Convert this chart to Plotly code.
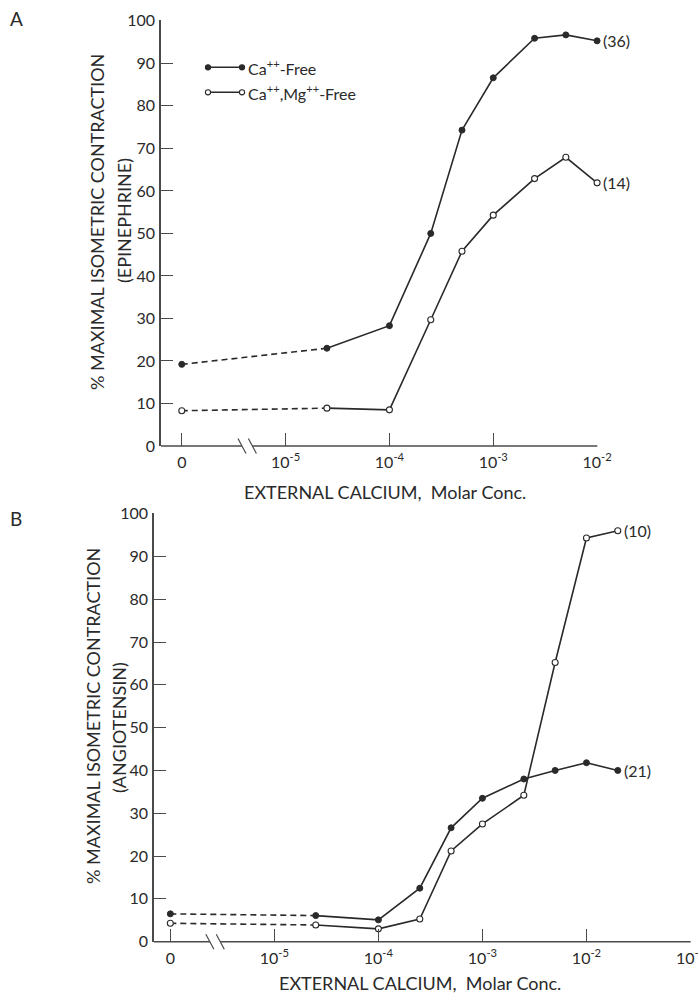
import numpy as np
import plotly.graph_objects as go

# ---------------------------------------------------------------- data
# Molar calcium concentrations (0 = calcium-free bath)
conc_a = [0, 2.5e-5, 1e-4, 2.5e-4, 5e-4, 1e-3, 2.5e-3, 5e-3, 1e-2]
ca_free_a = [19.2, 23.0, 28.3, 50.0, 74.3, 86.6, 95.9, 96.7, 95.3]
camg_free_a = [8.3, 8.9, 8.5, 29.7, 45.8, 54.3, 62.9, 67.9, 61.9]

conc_b = [0, 2.5e-5, 1e-4, 2.5e-4, 5e-4, 1e-3, 2.5e-3, 5e-3, 1e-2, 2e-2]
ca_free_b = [6.5, 6.1, 5.1, 12.5, 26.6, 33.5, 38.0, 40.0, 41.8, 40.0]
camg_free_b = [4.3, 3.9, 3.0, 5.3, 21.2, 27.5, 34.2, 65.2, 94.3, 96.0]

n_labels_a = {"ca": "(36)", "camg": "(14)"}
n_labels_b = {"ca": "(21)", "camg": "(10)"}

xtick_vals_a = [0, 1e-5, 1e-4, 1e-3, 1e-2]
xtick_text_a = ["0", "10<sup>-5</sup>", "10<sup>-4</sup>", "10<sup>-3</sup>", "10<sup>-2</sup>"]
xtick_vals_b = [0, 1e-5, 1e-4, 1e-3, 1e-2, 1e-1]
xtick_text_b = xtick_text_a + ["10<sup>-1</sup>"]
ytick_vals = list(range(0, 101, 10))

# ---------------------------------------------------------------- styling
W, H = 698, 996
FONT = "Lato"
INK = "#2a2a2a"
AXIS = "#4a4a4a"
ZERO_POS = 1e-6  # where the "0" concentration sits on the broken log axis


def px(x):
    return x / W


def py(y):
    return 1 - y / H


def plot_x(conc):
    return [ZERO_POS if c == 0 else c for c in conc]


panels = {
    "A": dict(xdom=(161, 597.3), ydom=(446, 20), xrange=(-6.2, -1.998), brk=-5.37),
    "B": dict(xdom=(154, 690.7), ydom=(941.7, 512.7), xrange=(-6.157, -0.998), brk=-5.57),
}


def log_to_px(panel, lv):
    p = panels[panel]
    x0, x1 = p["xdom"]
    r0, r1 = p["xrange"]
    return x0 + (lv - r0) / (r1 - r0) * (x1 - x0)


fig = go.Figure()


def add_series(conc, vals, xa, ya, filled):
    xs = plot_x(conc)
    line = dict(color=INK, width=1.6)
    # dashed link from the calcium-free point
    fig.add_trace(go.Scatter(x=xs[:2], y=vals[:2], mode="lines", xaxis=xa, yaxis=ya,
                             line=dict(color=INK, width=1.6, dash="6px,4px"),
                             showlegend=False, hoverinfo="skip", cliponaxis=False))
    fig.add_trace(go.Scatter(x=xs[1:], y=vals[1:], mode="lines", xaxis=xa, yaxis=ya,
                             line=line, showlegend=False, cliponaxis=False))
    marker = (dict(symbol="circle", size=6, color=INK, line=dict(color=INK, width=1))
              if filled else
              dict(symbol="circle", size=6, color="white", line=dict(color=INK, width=1.1)))
    fig.add_trace(go.Scatter(x=xs, y=vals, mode="markers", xaxis=xa, yaxis=ya,
                             marker=marker, showlegend=False, cliponaxis=False))


add_series(conc_a, ca_free_a, "x", "y", True)
add_series(conc_a, camg_free_a, "x", "y", False)
add_series(conc_b, ca_free_b, "x2", "y2", True)
add_series(conc_b, camg_free_b, "x2", "y2", False)

annotations = []
shapes = []

# sample-size labels at the end of each curve
for (conc, vals, lab, xr, yr) in [
    (conc_a, ca_free_a, n_labels_a["ca"], "x", "y"),
    (conc_a, camg_free_a, n_labels_a["camg"], "x", "y"),
    (conc_b, ca_free_b, n_labels_b["ca"], "x2", "y2"),
    (conc_b, camg_free_b, n_labels_b["camg"], "x2", "y2"),
]:
    annotations.append(dict(x=np.log10(conc[-1]), y=vals[-1], xref=xr, yref=yr,
                            text=lab, showarrow=False, xanchor="left", yanchor="middle",
                            xshift=4, font=dict(family=FONT, size=16, color=INK)))

tick_font = dict(family=FONT, size=16, color=INK)
axis_common = dict(showgrid=False, zeroline=False, ticks="inside", tickcolor=AXIS,
                   tickwidth=1.3, tickfont=tick_font, automargin=False,
                   ticklabeloverflow="allow")

layout_axes = {}
for key, (xa, ya, tv, tt) in {"A": ("xaxis", "yaxis", xtick_vals_a, xtick_text_a),
                              "B": ("xaxis2", "yaxis2", xtick_vals_b, xtick_text_b)}.items():
    p = panels[key]
    layout_axes[xa] = dict(axis_common, type="log",
                           domain=[px(p["xdom"][0]), px(p["xdom"][1])],
                           range=list(p["xrange"]), showline=False, ticklen=13,
                           tickvals=plot_x(tv), ticktext=tt, ticklabelstandoff=5,
                           anchor="y" if key == "A" else "y2")
    layout_axes[ya] = dict(axis_common, domain=[py(p["ydom"][0]), py(p["ydom"][1])],
                           range=[0, 100.2], showline=True, linecolor=AXIS, linewidth=1.5,
                           ticklen=12, tickvals=ytick_vals, ticklabelstandoff=1,
                           anchor="x" if key == "A" else "x2")

    # broken x-axis line with the // marks
    ax_y = p["ydom"][0]
    bc = log_to_px(key, p["brk"])
    gap = 5.2
    for xs0, xs1 in [(p["xdom"][0], bc - gap), (bc + gap, p["xdom"][1])]:
        shapes.append(dict(type="line", xref="paper", yref="paper",
                           x0=px(xs0), x1=px(xs1), y0=py(ax_y), y1=py(ax_y),
                           line=dict(color=AXIS, width=1.5)))
    for c in (bc - gap, bc + gap):
        shapes.append(dict(type="line", xref="paper", yref="paper",
                           x0=px(c - 4), x1=px(c + 4), y0=py(ax_y - 7.5), y1=py(ax_y + 7.5),
                           line=dict(color=AXIS, width=1.2)))

# axis titles
title_font = dict(family=FONT, size=18, color=INK)
for (x1, x2, yc, yc2, sub) in [(97, 124, 222, 221, "(EPINEPHRINE)"),
                               (93, 119, 716, 728, "(ANGIOTENSIN)")]:
    annotations.append(dict(x=px(x1), y=py(yc), xref="paper", yref="paper",
                            xanchor="center", yanchor="middle",
                            text="% MAXIMAL ISOMETRIC CONTRACTION", textangle=-90,
                            showarrow=False, font=title_font))
    annotations.append(dict(x=px(x2), y=py(yc2), xref="paper", yref="paper",
                            xanchor="center", yanchor="middle",
                            text=sub, textangle=-90, showarrow=False, font=title_font))
for (xc, yc) in [(385, 492), (420, 983)]:
    annotations.append(dict(x=px(xc), y=py(yc), xref="paper", yref="paper",
                            xanchor="center", yanchor="middle",
                            text="EXTERNAL CALCIUM,  Molar Conc.", showarrow=False,
                            font=title_font))

# panel letters
for (lab, yc) in [("A", 18), ("B", 518)]:
    annotations.append(dict(x=px(16), y=py(yc), xref="paper", yref="paper", text=lab,
                            xanchor="center", yanchor="middle",
                            showarrow=False, font=dict(family=FONT, size=19, color=INK)))

# legend keys
legend_rows = [(67.3, True, "Ca<sup>++</sup>-Free"),
               (92.3, False, "Ca<sup>++</sup>,Mg<sup>++</sup>-Free")]
for (ly, filled, txt) in legend_rows:
    shapes.append(dict(type="line", xref="paper", yref="paper", x0=px(208), x1=px(242),
                       y0=py(ly), y1=py(ly), line=dict(color=INK, width=1.6)))
    for cx in (208, 242):
        shapes.append(dict(type="circle", xref="paper", yref="paper",
                           x0=px(cx - 2.6), x1=px(cx + 2.6), y0=py(ly + 2.6), y1=py(ly - 2.6),
                           fillcolor=INK if filled else "white",
                           line=dict(color=INK, width=1.1)))
    annotations.append(dict(x=px(246), y=py(ly), xref="paper", yref="paper", text=txt,
                            showarrow=False, xanchor="left", yanchor="middle",
                            font=dict(family=FONT, size=16, color=INK)))

fig.update_layout(width=W, height=H, autosize=False,
                  margin=dict(l=0, r=0, t=0, b=0, pad=0, autoexpand=False),
                  paper_bgcolor="white", plot_bgcolor="white",
                  showlegend=False, annotations=annotations, shapes=shapes,
                  **layout_axes)

fig.write_html("out.html")
